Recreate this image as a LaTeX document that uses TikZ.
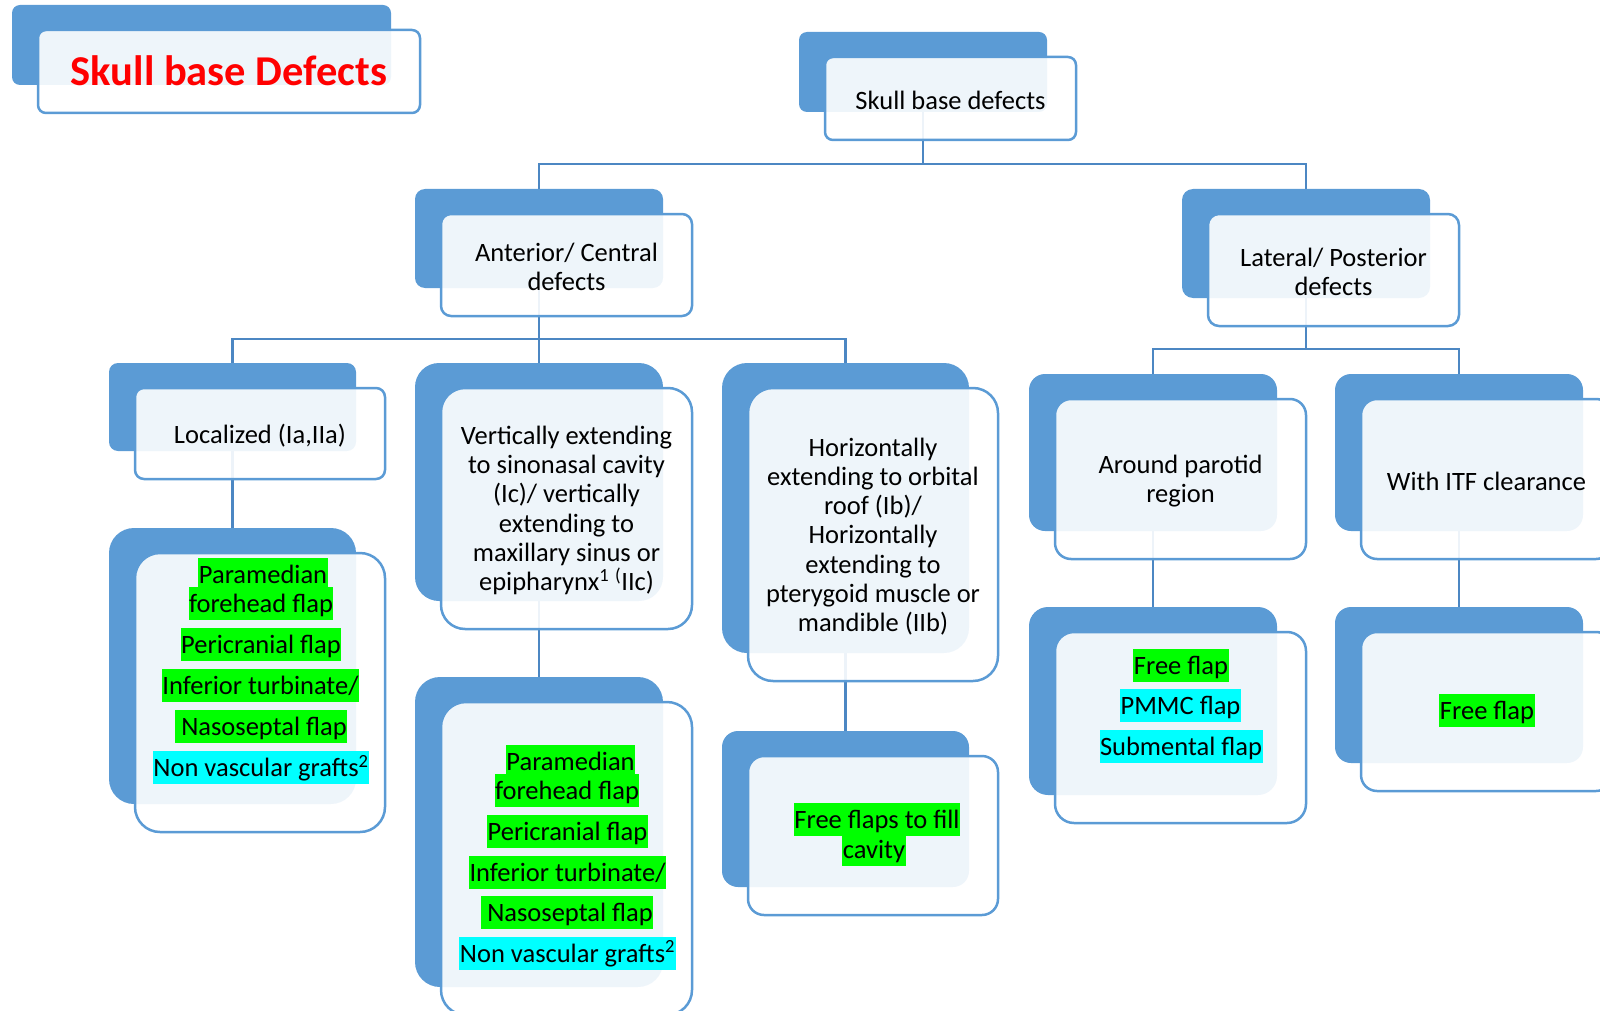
\documentclass[tikz,border=0pt]{standalone}
\usepackage{fontspec}
\setmainfont{Carlito}
\pgfdeclarelayer{bg}
\pgfsetlayers{bg,main}
\definecolor{boxblue}{RGB}{91,155,213}
\definecolor{lineblue}{RGB}{76,135,195}
\definecolor{hlgreen}{RGB}{0,255,0}
\definecolor{hlcyan}{RGB}{0,255,255}
\definecolor{titlered}{RGB}{255,0,0}
\tikzset{
  backbox/.style={rectangle, fill=boxblue, inner sep=0pt},
  frontbox/.style={rectangle, draw=boxblue, line width=2.5pt, fill=white, fill opacity=0.9, inner sep=0pt},
  lbl/.style={align=center, font=\fontsize{26.5}{29.2}\selectfont, inner sep=0pt, text=black, yshift=-2pt},
  titletext/.style={font=\bfseries\fontsize{42.5}{50}\selectfont, inner sep=0pt, text=titlered, anchor=base},
  hl/.style={font=\fontsize{26.5}{29.2}\selectfont, inner xsep=0.5pt, inner ysep=0pt, text height=25.5pt, text depth=7.5pt, anchor=base, text=black},
  hlg/.style={hl, fill=hlgreen},
  hlc/.style={hl, fill=hlcyan},
  conn/.style={draw=lineblue, line width=2.6pt},
}
\newcommand\duo[6]{%
  \pgfmathsetmacro\fw{#4+3}\pgfmathsetmacro\fh{#5+3}%
  \node[backbox, minimum width=#4pt, minimum height=#5pt, rounded corners=#6pt] (#1) at (#2,#3) {};
  \node[frontbox, minimum width=\fw pt, minimum height=\fh pt, rounded corners=#6pt] (#1f) at ([shift={(27.5,26.5)}]#1.center) {};
}
\begin{document}
\begin{tikzpicture}[x=1pt,y=-1pt]
\useasboundingbox (0,0) rectangle (1600,1011);
\duo{T}{201.5}{45}{379}{80}{8}
\duo{S}{923}{72}{248}{80}{8}
\duo{A}{539}{238.5}{248}{99}{10}
\duo{L}{1306}{243.5}{248}{109}{11}
\duo{Lo}{232.5}{407}{247}{88}{9}
\duo{V}{539}{482}{248}{238}{24}
\duo{H}{845.5}{508}{247}{290}{25}
\duo{P}{1153}{452.5}{248}{157}{16}
\duo{I}{1459}{452.5}{248}{157}{16}
\duo{LoC}{232.5}{666}{247}{276}{25}
\duo{VC}{539}{832}{248}{310}{25}
\duo{HC}{845.5}{809}{247}{156}{16}
\duo{PC}{1153}{701}{248}{188}{19}
\duo{IC}{1459}{685}{248}{156}{16}

\node[titletext] (tT) at (229,86) {Skull base Defects};
\node[lbl] (tS) at (Sf) {Skull base defects};
\node[lbl] (tA) at (Af) {Anterior/ Central\\defects};
\node[lbl] (tL) at (Lf) {Lateral/ Posterior\\defects};
\node[lbl] (tLo) at (Lof) {Localized (Ia,IIa)};
\node[lbl] (tV) at (Vf) {Vertically extending\\to sinonasal cavity\\(Ic)/ vertically\\extending to\\maxillary sinus or\\epipharynx\textsuperscript{1} \textsuperscript{(}IIc)};
\node[lbl] (tH) at (Hf) {Horizontally\\extending to orbital\\roof (Ib)/\\Horizontally\\extending to\\pterygoid muscle or\\mandible (IIb)};
\node[lbl] (tP) at (Pf) {Around parotid\\region};
\node[lbl] (tI) at (If) {With ITF clearance};

\node[hlg] (lo1) at (263,583) {Paramedian\ };
\node[hlg] (lo2) at (261,612.5) {forehead flap};
\node[hlg] (lo3) at (261,653.5) {Pericranial flap};
\node[hlg] (lo4) at (260.5,694.5) {Inferior turbinate/};
\node[hlg] (lo5) at (261,735.5) {\ Nasoseptal flap};
\node[hlc] (lo6) at (261,776.5) {Non vascular grafts\textsuperscript{2}};

\node[hlg] (vc1) at (570.5,770) {Paramedian\ };
\node[hlg] (vc2) at (567,799.5) {forehead flap};
\node[hlg] (vc3) at (567.5,840.5) {Pericranial flap};
\node[hlg] (vc4) at (567.5,881) {Inferior turbinate/};
\node[hlg] (vc5) at (567,921.5) {\ Nasoseptal flap};
\node[hlc] (vc6) at (567.5,962) {Non vascular grafts\textsuperscript{2}};

\node[hlg] (hc1) at (877,828.5) {Free flaps to fill\ };
\node[hlg] (hc2) at (874,858) {cavity};

\node[hlg] (pc1) at (1181,674.5) {Free flap};
\node[hlc] (pc2) at (1180.5,714.5) {PMMC flap};
\node[hlc] (pc3) at (1181,755.5) {Submental flap};

\node[hlg] (ic1) at (1487,719.5) {Free flap};

\begin{pgfonlayer}{bg}
\coordinate (sj) at (923,164);
\draw[conn] (S.south) -- (sj);
\draw[conn] (A.north) |- (sj) -| (L.north);
\coordinate (aj) at (539,339);
\draw[conn] (A.south) -- (V.north);
\draw[conn] (Lo.north) |- (aj) -| (H.north);
\coordinate (lj) at (1306,349);
\draw[conn] (L.south) -- (lj);
\draw[conn] (P.north) |- (lj) -| (I.north);
\draw[conn] (Lo.south) -- (LoC.north);
\draw[conn] (V.south) -- (VC.north);
\draw[conn] (H.south) -- (HC.north);
\draw[conn] (P.south) -- (PC.north);
\draw[conn] (I.south) -- (IC.north);
\end{pgfonlayer}
\end{tikzpicture}
\end{document}
